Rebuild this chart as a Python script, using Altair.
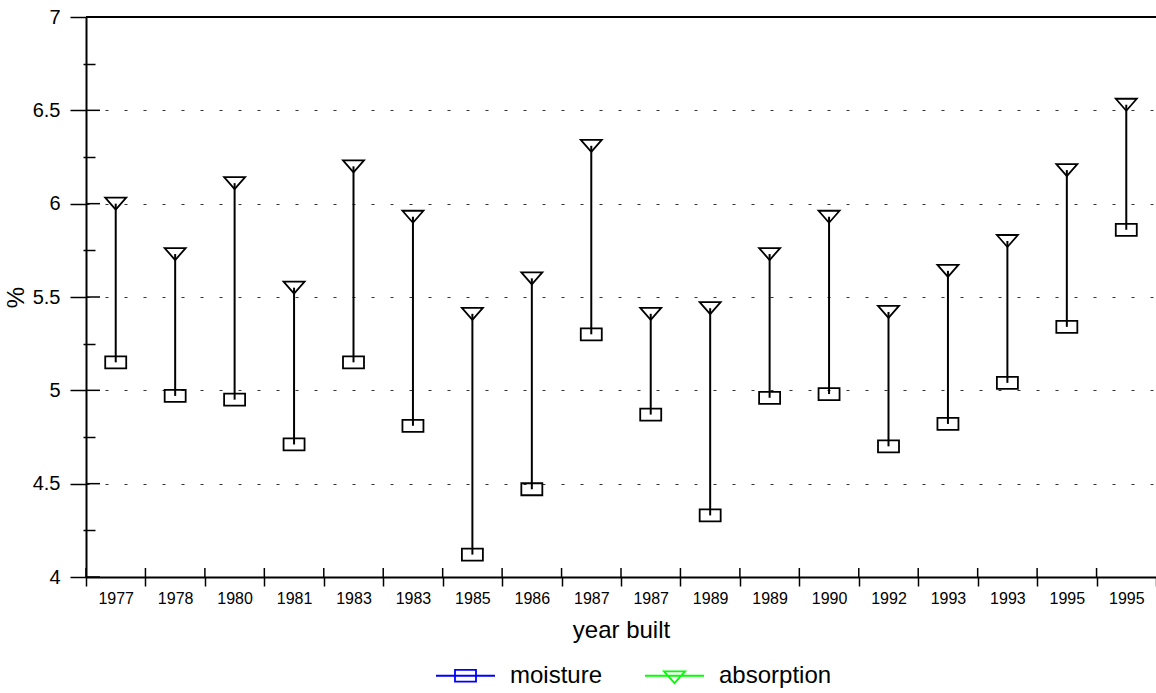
import altair as alt
import pandas as pd

years = ["1977", "1978", "1980", "1981", "1983", "1983", "1985", "1986", "1987",
         "1987", "1989", "1989", "1990", "1992", "1993", "1993", "1995", "1995"]
moisture = [5.15, 4.97, 4.95, 4.71, 5.15, 4.81, 4.12, 4.47, 5.30,
            4.87, 4.33, 4.96, 4.98, 4.70, 4.82, 5.04, 5.34, 5.86]
absorption = [6.00, 5.73, 6.11, 5.55, 6.20, 5.93, 5.41, 5.60, 6.31,
              5.41, 5.44, 5.73, 5.93, 5.42, 5.64, 5.80, 6.18, 6.53]
series = ["moisture", "absorption"]
series_colors = ["#0000ff", "#00ff00"]
major_ticks = [4, 4.5, 5, 5.5, 6, 6.5, 7]
minor_ticks = [4.25, 4.75, 5.25, 5.75, 6.25, 6.75]
top_value = [7]

idx = list(range(len(years)))
df = pd.DataFrame({"idx": idx, "year": years, "moisture": moisture, "absorption": absorption})
long_df = pd.DataFrame({
    "idx": idx * 2,
    "value": moisture + absorption,
    "series": [series[0]] * len(idx) + [series[1]] * len(idx),
})
top_df = pd.DataFrame({"v": top_value})
major_df = pd.DataFrame({"v": major_ticks})

FONT = "Liberation Sans"
label_expr = "[" + ",".join("'%s'" % y for y in years) + "][datum.value]"

xscale = alt.Scale(paddingInner=0, paddingOuter=0)
yscale = alt.Scale(domain=[4, 7], nice=False, zero=False)

rect_path = "M-1,-0.571H1V0.571H-1Z"
tri_path = "M-1,-0.571L1,-0.571L0,0.571Z"
leg_rect = "M-1,0H1M-0.356,-0.2H0.356V0.2H-0.356Z"
leg_tri = "M-1,0H1M-0.356,-0.15L0.356,-0.15L0,0.25Z"

x_main = alt.X("idx:O", scale=xscale, axis=alt.Axis(
    orient="bottom", tickBand="extent", tickSize=9, tickWidth=1.5, tickColor="black",
    domainColor="black", domainWidth=2, labelFont=FONT, labelFontSize=16,
    labelColor="black", labelAngle=0, labelPadding=4, labelExpr=label_expr,
    title="year built", titleFont=FONT, titleFontSize=24, titleFontWeight="normal",
    titleColor="black", titleY=60, titleBaseline="alphabetic"))

y_main = alt.Y("moisture:Q", scale=yscale, axis=alt.Axis(
    orient="left", values=major_ticks, format="~g", tickSize=16, tickWidth=1.5,
    tickColor="black", domainColor="black", domainWidth=2, labelFont=FONT,
    labelFontSize=20, labelColor="black", labelPadding=10, grid=True,
    gridDash=[3, 16], gridColor="#333333", gridWidth=1,
    title="%", titleFont=FONT, titleFontSize=24, titleFontWeight="normal",
    titleColor="black", titleAngle=270, titleX=-70, titleY=280,
    titleAlign="center", titleBaseline="middle"))

base = alt.Chart(df)

rules = base.mark_rule(color="black", strokeWidth=2).encode(
    x=x_main, y=y_main, y2="absorption:Q")

moist_pts = base.mark_point(shape=rect_path, size=441, color="black",
                            strokeWidth=1.8, opacity=1, filled=False).encode(
    x=alt.X("idx:O", axis=None), y=alt.Y("moisture:Q", axis=None))
abs_pts = base.mark_point(shape=tri_path, size=441, color="black",
                          strokeWidth=1.8, opacity=1, filled=False).encode(
    x=alt.X("idx:O", axis=None), y=alt.Y("absorption:Q", axis=None))

# inward halves of major y ticks
y_in = alt.Chart(major_df).mark_rule(color="black", strokeWidth=1.5).encode(
    y=alt.Y("v:Q", axis=None), x=alt.value(0), x2=alt.value(14))

# inward halves of x ticks at band boundaries
x_in = base.mark_rule(color="black", strokeWidth=1.5).encode(
    x=alt.X("idx:O", bandPosition=0, axis=None), y=alt.value(551), y2=alt.value(560))

# minor y ticks
y_minor = base.mark_point(opacity=0).encode(
    x=alt.X("idx:O", axis=None),
    y=alt.Y("absorption:Q", axis=alt.Axis(orient="left", offset=-9, values=minor_ticks,
                                          tickSize=12, tickWidth=1.5, tickColor="black",
                                          labels=False, domain=False, grid=False, title=None)))

top_line = alt.Chart(top_df).mark_rule(color="black", strokeWidth=2).encode(
    y=alt.Y("v:Q", axis=None))

legend_layer = alt.Chart(long_df).mark_point(opacity=0, filled=False).encode(
    x=alt.X("idx:O", axis=None),
    y=alt.Y("value:Q", axis=None),
    color=alt.Color("series:N", scale=alt.Scale(domain=series, range=series_colors),
                    legend=alt.Legend(orient="none", legendX=349, legendY=628,
                                      direction="horizontal", title=None,
                                      symbolOpacity=1, symbolSize=3481,
                                      symbolStrokeWidth=1.8, symbolFillColor="transparent",
                                      labelFont=FONT, labelFontSize=24, labelColor="black",
                                      labelOffset=14, columnPadding=38)),
    shape=alt.Shape("series:N", scale=alt.Scale(domain=series, range=[leg_rect, leg_tri])),
)

chart = alt.layer(rules, moist_pts, abs_pts, y_in, x_in, y_minor, top_line, legend_layer).resolve_axis(
    x="independent", y="independent"
).properties(
    width=1070, height=560,
    autosize=alt.AutoSizeParams(type="none"),
    padding={"left": 86, "top": 17, "right": 0, "bottom": 116},
).configure_view(stroke=None).configure(background="white")

chart.save("out.html", embed_options={"renderer": "svg", "actions": False})
